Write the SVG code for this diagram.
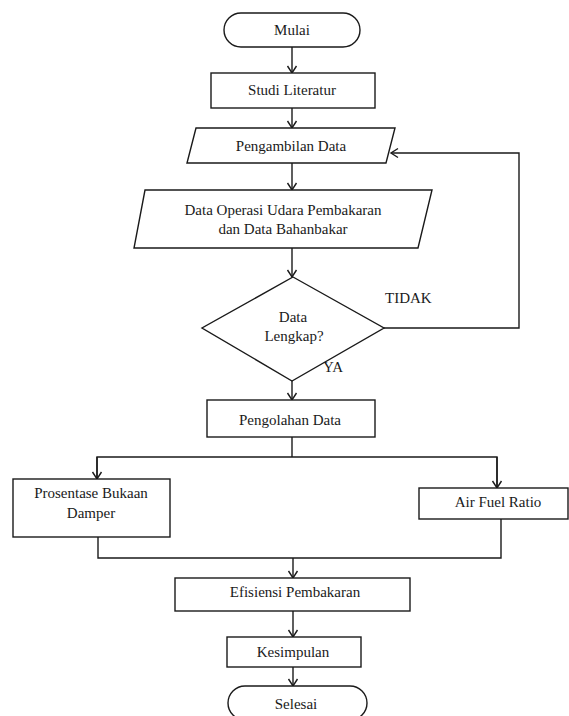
<svg xmlns="http://www.w3.org/2000/svg" width="569" height="716" viewBox="0 0 569 716">
  <style>
    .shape { fill: #ffffff; stroke: #1a1a1a; stroke-width: 1.4; }
    .line { fill: none; stroke: #1a1a1a; stroke-width: 1.4; }
    text { font-size: 15px; fill: #1a1a1a; text-anchor: middle; }
    .lbl { text-anchor: start; }
  </style>
  <defs>
    <marker id="arrow" markerWidth="12" markerHeight="12" refX="10" refY="6" orient="auto" markerUnits="userSpaceOnUse">
      <path d="M3,1.5 L10,6 L3,10.5" fill="none" stroke="#1a1a1a" stroke-width="1.4"/>
    </marker>
  </defs>
  <rect width="569" height="716" fill="#ffffff"/>

  <g font-family="Liberation Serif, Tinos, DejaVu Serif, serif">
  <!-- connectors -->
  <g id="connectors">
    <line class="line" x1="292" y1="47" x2="292" y2="73" marker-end="url(#arrow)"/>
    <line class="line" x1="292" y1="108" x2="292" y2="128" marker-end="url(#arrow)"/>
    <line class="line" x1="292" y1="163" x2="292" y2="190" marker-end="url(#arrow)"/>
    <line class="line" x1="292" y1="248" x2="292" y2="277" marker-end="url(#arrow)"/>
    <line class="line" x1="292" y1="381" x2="292" y2="400" marker-end="url(#arrow)"/>
    <polyline class="line" points="384,328 519,328 519,153 391,153" marker-end="url(#arrow)"/>
    <polyline class="line" points="292,437 292,457"/>
    <polyline class="line" points="97,479 97,457 497,457 497,488"/>
    <line class="line" x1="97" y1="457" x2="97" y2="479" marker-end="url(#arrow)"/>
    <line class="line" x1="497" y1="457" x2="497" y2="488" marker-end="url(#arrow)"/>
    <polyline class="line" points="98,537 98,558 501,558 501,519"/>
    <line class="line" x1="293" y1="558" x2="293" y2="578" marker-end="url(#arrow)"/>
    <line class="line" x1="293" y1="611" x2="293" y2="637" marker-end="url(#arrow)"/>
    <line class="line" x1="293" y1="667" x2="293" y2="686" marker-end="url(#arrow)"/>
    <text class="lbl" x="385" y="303">TIDAK</text>
    <text class="lbl" x="323" y="372" font-size="14">YA</text>
  </g>

  <g id="mulai">
    <rect class="shape" x="224" y="13" width="136" height="34" rx="17" ry="17"/>
    <text x="292" y="35">Mulai</text>
  </g>

  <g id="studi-literatur">
    <rect class="shape" x="211" y="73" width="164" height="35"/>
    <text x="292" y="95">Studi Literatur</text>
  </g>

  <g id="pengambilan-data">
    <polygon class="shape" points="196,128 395,128 386,163 187,163"/>
    <text x="291" y="151">Pengambilan Data</text>
  </g>

  <g id="data-operasi">
    <polygon class="shape" points="145,190 432,190 418,248 134,248"/>
    <text x="283" y="215">Data Operasi Udara Pembakaran</text>
    <text x="283" y="234">dan Data Bahanbakar</text>
  </g>

  <g id="data-lengkap">
    <polygon class="shape" points="293,277 384,328 292,381 202,328"/>
    <text x="293" y="322">Data</text>
    <text x="294" y="341">Lengkap?</text>
  </g>

  <g id="pengolahan-data">
    <rect class="shape" x="207" y="400" width="168" height="37"/>
    <text x="290" y="425">Pengolahan Data</text>
  </g>

  <g id="prosentase-bukaan">
    <rect class="shape" x="13" y="479" width="157" height="58"/>
    <text x="91" y="498">Prosentase Bukaan</text>
    <text x="91" y="518">Damper</text>
  </g>

  <g id="air-fuel-ratio">
    <rect class="shape" x="419" y="488" width="149" height="31"/>
    <text x="498" y="507">Air Fuel Ratio</text>
  </g>

  <g id="efisiensi-pembakaran">
    <rect class="shape" x="175" y="578" width="235" height="33"/>
    <text x="295" y="597">Efisiensi Pembakaran</text>
  </g>

  <g id="kesimpulan">
    <rect class="shape" x="227" y="637" width="134" height="30"/>
    <text x="293" y="657">Kesimpulan</text>
  </g>

  <g id="selesai">
    <rect class="shape" x="228" y="686" width="139" height="34" rx="17" ry="17"/>
    <text x="296" y="709">Selesai</text>
  </g>
  </g>
</svg>
